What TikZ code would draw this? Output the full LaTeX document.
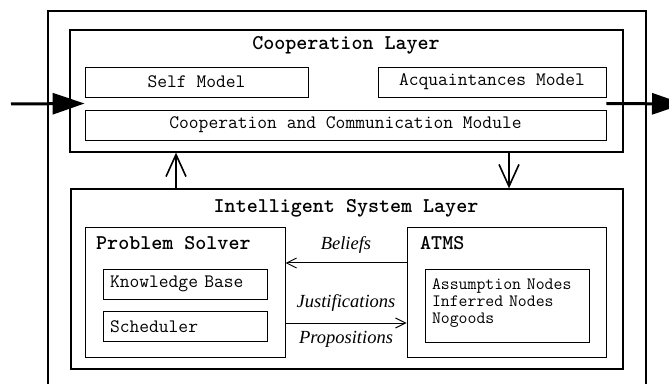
\documentclass[tikz,border=0pt]{standalone}
\usepackage{fontspec}
\newfontfamily\seriff{Liberation Serif}
\usetikzlibrary{positioning,arrows.meta,calc}
\tikzset{
  frame/.style={draw,line width=1.8pt},
  layer/.style={draw,line width=1.3pt,minimum width=553pt},
  modbox/.style={draw,line width=0.8pt,minimum height=30pt,inner sep=0pt,
            font=\ttfamily\fontsize{19}{19}\selectfont},
  leftbox/.style={modbox,minimum width=164pt,text width=150pt,align=left},
  unitbox/.style={draw,line width=1pt,minimum width=200pt,minimum height=129pt},
  title/.style={font=\ttfamily\bfseries\fontsize{21}{22}\selectfont,inner sep=0pt},
  flowlabel/.style={font=\seriff\itshape\fontsize{18.5}{20}\selectfont,inner sep=0pt},
  extflow/.style={-{Triangle[length=32pt,width=21pt]},line width=3pt},
  layerflow/.style={-{Straight Barb[length=22pt,width=20pt]},line width=1.6pt},
  infoflow/.style={-{Straight Barb[length=10pt,width=10pt]},line width=1pt},
}

\begin{document}
\begin{tikzpicture}[x=1pt,y=1pt]
  \clip (0,0) rectangle (669,383);
  \draw[frame] (48,372) rectangle (646,-12);

  % cooperation layer
  \node[layer,minimum height=122pt] (coop) at (346.5,292) {};
  \node[title] (cooptitle) at (346,338) {Cooperation Layer};
  \node[modbox,minimum width=223pt] (self) at (196.5,301) {Self Model};
  \node[modbox,minimum width=228pt] (acq) at (492,301) {Acquaintances Model};
  \node[modbox,minimum width=521pt] (comm) at (345.5,258)
    {Cooperation and Communication Module};

  % intelligent system layer
  \node[layer,minimum height=180pt,minimum width=552pt] (intel) at (347,104) {};
  \node[title] (inteltitle) at (346,175) {Intelligent System Layer};
  \node[unitbox] (ps) at (185,90.5) {};
  \node[title,anchor=west] (pstitle) at (96,140) {Problem Solver};
  \node[leftbox] (kb) at (185,99) {Knowledge Base};
  \node[leftbox,below=12pt of kb] (sched) {Scheduler};
  \node[unitbox,minimum width=199pt] (atms) at (506.5,90.5) {};
  \node[title,anchor=west] (atmstitle) at (420,140) {ATMS};
  \node[leftbox,minimum height=73pt,font=\ttfamily\fontsize{17.3}{17}\selectfont]
    (atmsin) at (507,77.5)
    {Assumption Nodes\\Inferred Nodes\\Nogoods\\[-9pt]\mbox{}};

  % flows
  \coordinate (in) at (11,279);
  \coordinate (out) at (684,279);
  \draw[extflow] (in) -- ($(self.south west)!0.5!(comm.north west)$);
  \draw[extflow] ($(acq.south east)!0.5!(comm.north east)$) -- (out);
  \draw[layerflow] (intel.north -| 176,0) -- (coop.south -| 176,0);
  \draw[layerflow] (coop.south -| 509,0) -- (intel.north -| 509,0);
  \draw[infoflow] (atms.west |- 0,120) -- (ps.east |- 0,120)
    node[flowlabel,midway,above=9pt] (beliefs) {Beliefs};
  \draw[infoflow] (ps.east |- 0,60) -- (atms.west |- 0,60)
    node[flowlabel,midway,above=11pt] (justif) {Justifications}
    node[flowlabel,midway,below=8pt] (props) {Propositions};
\end{tikzpicture}
\end{document}
